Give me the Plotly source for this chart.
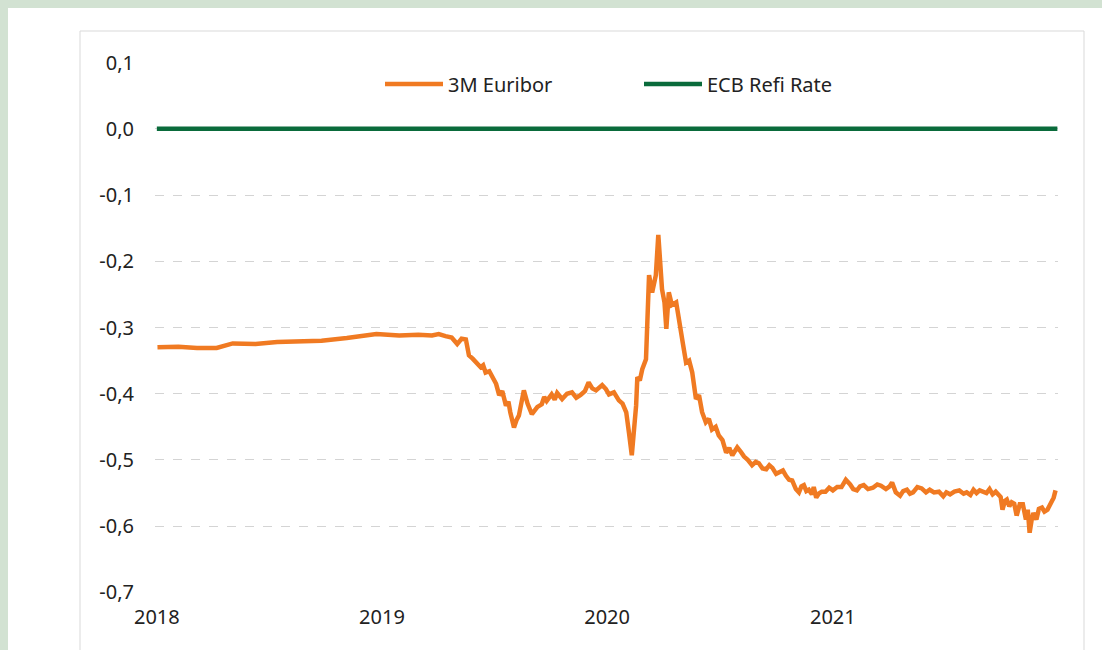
import plotly.graph_objects as go

# ---- data ----
euribor_dates = [
    "2018-01-02", "2018-02-05", "2018-03-07", "2018-04-08", "2018-05-04", "2018-06-10",
    "2018-07-15", "2018-08-21", "2018-09-25", "2018-11-05", "2018-12-01", "2018-12-23",
    "2019-01-29", "2019-03-01", "2019-03-23", "2019-04-03", "2019-04-14", "2019-04-24",
    "2019-05-03", "2019-05-10", "2019-05-17", "2019-05-22", "2019-05-28", "2019-06-02",
    "2019-06-10", "2019-06-14", "2019-06-18", "2019-06-24", "2019-06-28", "2019-07-05",
    "2019-07-10", "2019-07-15", "2019-07-21", "2019-07-25", "2019-07-28", "2019-08-03",
    "2019-08-07", "2019-08-11", "2019-08-19", "2019-08-25", "2019-09-01", "2019-09-06",
    "2019-09-10", "2019-09-17", "2019-09-21", "2019-09-25", "2019-10-03", "2019-10-08",
    "2019-10-12", "2019-10-20", "2019-10-28", "2019-11-05", "2019-11-12", "2019-11-19",
    "2019-11-26", "2019-12-02", "2019-12-08", "2019-12-14", "2019-12-24", "2019-12-30",
    "2020-01-04", "2020-01-12", "2020-01-20", "2020-01-26", "2020-02-01", "2020-02-06",
    "2020-02-10", "2020-02-17", "2020-02-19", "2020-02-23", "2020-02-27", "2020-03-04",
    "2020-03-09", "2020-03-14", "2020-03-20", "2020-03-24", "2020-03-30", "2020-04-03",
    "2020-04-06", "2020-04-10", "2020-04-15", "2020-04-22", "2020-04-27", "2020-05-03",
    "2020-05-08", "2020-05-13", "2020-05-18", "2020-05-24", "2020-05-29", "2020-06-03",
    "2020-06-09", "2020-06-14", "2020-06-19", "2020-06-25", "2020-06-30", "2020-07-06",
    "2020-07-12", "2020-07-17", "2020-07-22", "2020-07-30", "2020-08-05", "2020-08-10",
    "2020-08-16", "2020-08-23", "2020-08-29", "2020-09-03", "2020-09-09", "2020-09-15",
    "2020-09-20", "2020-09-25", "2020-10-01", "2020-10-06", "2020-10-12", "2020-10-17",
    "2020-10-22", "2020-10-27", "2020-11-02", "2020-11-07", "2020-11-11", "2020-11-15",
    "2020-11-19", "2020-11-23", "2020-11-28", "2020-12-01", "2020-12-05", "2020-12-09",
    "2020-12-14", "2020-12-20", "2020-12-26", "2021-01-01", "2021-01-08", "2021-01-15",
    "2021-01-22", "2021-01-29", "2021-02-03", "2021-02-09", "2021-02-14", "2021-02-20",
    "2021-02-27", "2021-03-07", "2021-03-14", "2021-03-20", "2021-03-28", "2021-04-03",
    "2021-04-07", "2021-04-13", "2021-04-20", "2021-04-25", "2021-05-01", "2021-05-06",
    "2021-05-11", "2021-05-18", "2021-05-25", "2021-06-01", "2021-06-07", "2021-06-14",
    "2021-06-22", "2021-06-29", "2021-07-04", "2021-07-10", "2021-07-17", "2021-07-25",
    "2021-08-01", "2021-08-06", "2021-08-12", "2021-08-17", "2021-08-22", "2021-08-27",
    "2021-09-02", "2021-09-07", "2021-09-12", "2021-09-17", "2021-09-22", "2021-09-26",
    "2021-09-30", "2021-10-03", "2021-10-07", "2021-10-10", "2021-10-14", "2021-10-18",
    "2021-10-22", "2021-10-26", "2021-10-31", "2021-11-05", "2021-11-10", "2021-11-13",
    "2021-11-16", "2021-11-19", "2021-11-22", "2021-11-27", "2021-12-01", "2021-12-06",
    "2021-12-10", "2021-12-15", "2021-12-19", "2021-12-22", "2021-12-25", "2021-12-28",
]
euribor_values = [
    -0.330, -0.329, -0.331, -0.331, -0.324, -0.325,
    -0.322, -0.321, -0.320, -0.316, -0.313, -0.310,
    -0.312, -0.311, -0.312, -0.310, -0.313, -0.315,
    -0.325, -0.317, -0.318, -0.342, -0.347, -0.353,
    -0.360, -0.357, -0.368, -0.366, -0.372, -0.385,
    -0.402, -0.396, -0.418, -0.412, -0.428, -0.451,
    -0.440, -0.433, -0.395, -0.415, -0.431, -0.424,
    -0.420, -0.416, -0.405, -0.411, -0.401, -0.409,
    -0.399, -0.408, -0.400, -0.398, -0.406, -0.402,
    -0.396, -0.383, -0.392, -0.395, -0.387, -0.393,
    -0.401, -0.398, -0.410, -0.415, -0.428, -0.463,
    -0.493, -0.418, -0.375, -0.380, -0.363, -0.348,
    -0.221, -0.247, -0.221, -0.160, -0.242, -0.262,
    -0.302, -0.247, -0.266, -0.262, -0.287, -0.325,
    -0.353, -0.350, -0.368, -0.408, -0.402, -0.428,
    -0.443, -0.438, -0.454, -0.450, -0.463, -0.470,
    -0.489, -0.482, -0.493, -0.481, -0.488, -0.495,
    -0.500, -0.508, -0.503, -0.505, -0.513, -0.514,
    -0.508, -0.512, -0.521, -0.519, -0.516, -0.524,
    -0.530, -0.531, -0.544, -0.549, -0.540, -0.538,
    -0.547, -0.545, -0.552, -0.541, -0.557, -0.551,
    -0.548, -0.548, -0.542, -0.546, -0.541, -0.541,
    -0.530, -0.537, -0.544, -0.546, -0.540, -0.538,
    -0.544, -0.542, -0.537, -0.539, -0.544, -0.540,
    -0.534, -0.549, -0.554, -0.547, -0.545, -0.551,
    -0.549, -0.541, -0.543, -0.549, -0.545, -0.549,
    -0.548, -0.555, -0.549, -0.552, -0.548, -0.546,
    -0.551, -0.549, -0.553, -0.545, -0.550, -0.546,
    -0.549, -0.550, -0.544, -0.552, -0.548, -0.553,
    -0.556, -0.575, -0.562, -0.560, -0.570, -0.564,
    -0.566, -0.584, -0.567, -0.567, -0.590, -0.575,
    -0.610, -0.592, -0.580, -0.590, -0.574, -0.572,
    -0.578, -0.575, -0.568, -0.560, -0.557, -0.546,
]
ecb_dates = ["2018-01-01", "2021-12-31"]
ecb_values = [0.0, 0.0]

y_tick_vals = [0.1, 0.0, -0.1, -0.2, -0.3, -0.4, -0.5, -0.6, -0.7]
y_tick_text = ["0,1", "0,0", "-0,1", "-0,2", "-0,3", "-0,4", "-0,5", "-0,6", "-0,7"]
x_tick_vals = ["2018-01-01", "2019-01-01", "2020-01-01", "2021-01-01"]
x_tick_text = ["2018", "2019", "2020", "2021"]

ORANGE = "#F07A22"
GREEN = "#0A6B3B"
BG_GREEN = "#D2E2D2"
FONT = "Noto Sans"

# plot-area pixel geometry (for paper-coordinate decorations)
W, H = 1102, 650
ML, MR, MT, MB = 155, 44, 62, 57
PW, PH = W - ML - MR, H - MT - MB


def px_x(px):
    return (px - ML) / PW


def px_y(py):
    return (H - MB - py) / PH


fig = go.Figure()
fig.add_trace(go.Scatter(
    x=euribor_dates, y=euribor_values, name="3M Euribor", mode="lines",
    line=dict(color=ORANGE, width=4.5),
))
fig.add_trace(go.Scatter(
    x=ecb_dates, y=ecb_values, name="ECB Refi Rate", mode="lines",
    line=dict(color=GREEN, width=4.5),
))

fig.update_layout(
    width=W, height=H,
    margin=dict(l=ML, r=MR, t=MT, b=MB),
    paper_bgcolor=BG_GREEN,
    plot_bgcolor="rgba(0,0,0,0)",
    font=dict(family=FONT, size=20, color="#222222"),
    showlegend=True,
    legend=dict(
        orientation="h", x=px_x(380), xanchor="left", y=px_y(84), yanchor="middle",
        bgcolor="rgba(0,0,0,0)", font=dict(family=FONT, size=20, color="#222222"),
        itemwidth=58, entrywidth=186, entrywidthmode="pixels",
        traceorder="normal",
    ),
    shapes=[
        dict(type="rect", xref="paper", yref="paper", layer="below",
             x0=px_x(8), x1=px_x(1120), y0=px_y(670), y1=px_y(8),
             fillcolor="white", line=dict(width=0)),
        dict(type="rect", xref="paper", yref="paper", layer="below",
             x0=px_x(80), x1=px_x(1084), y0=px_y(670), y1=px_y(31),
             fillcolor="rgba(0,0,0,0)", line=dict(color="#D9D9D9", width=1)),
    ],
)

fig.update_xaxes(
    type="date", range=["2017-12-29", "2022-01-01"],
    tickvals=x_tick_vals, ticktext=x_tick_text,
    showgrid=False, zeroline=False, showline=False,
    ticks="outside", ticklen=6, tickcolor="rgba(0,0,0,0)",
    tickfont=dict(family=FONT, size=20, color="#222222"),
)
fig.update_yaxes(
    range=[-0.701, 0.101],
    tickvals=y_tick_vals, ticktext=y_tick_text,
    showgrid=True, gridcolor="#D4D4D4", griddash="dash", gridwidth=1,
    zeroline=False, showline=False,
    ticks="outside", ticklen=16, tickcolor="rgba(0,0,0,0)",
    tickfont=dict(family=FONT, size=20, color="#222222"),
)

fig.write_html(
    "out.html",
    config={"displayModeBar": False},
    post_script="document.body.style.margin='0px';document.body.style.overflow='hidden';",
)
